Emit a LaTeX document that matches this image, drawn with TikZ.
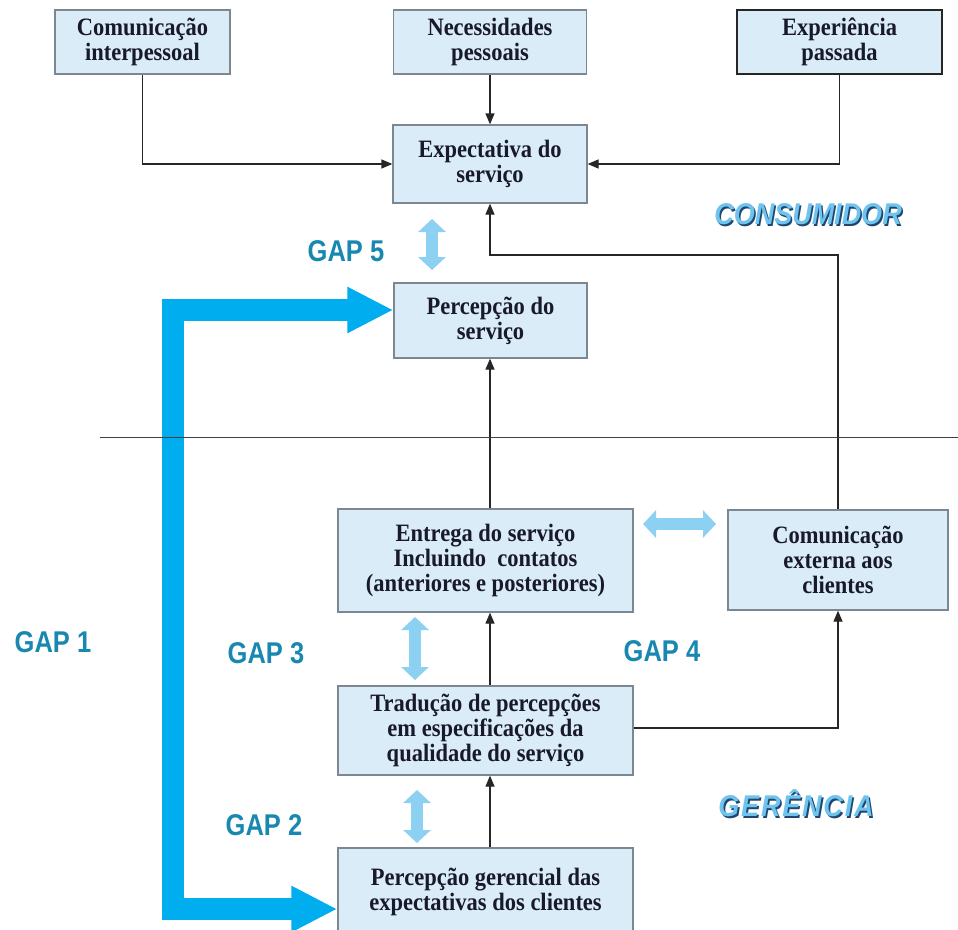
\documentclass[tikz,border=0pt]{standalone}
\usepackage{fontspec}
\setmainfont{Liberation Serif}
\newfontfamily\boxfont[FakeStretch=0.9]{Liberation Serif}
\newfontfamily\gapfont[FakeStretch=0.85]{Liberation Sans}
\newfontfamily\regfont[FakeStretch=0.9]{Liberation Sans}
\usetikzlibrary{arrows.meta}
\definecolor{boxfill}{RGB}{218,236,248}
\definecolor{boxline}{RGB}{125,135,145}
\definecolor{txt}{RGB}{25,25,45}
\definecolor{gapc}{RGB}{24,136,176}
\definecolor{bigc}{RGB}{0,174,239}
\definecolor{lightc}{RGB}{140,208,242}
\definecolor{regfill}{RGB}{110,196,238}
\definecolor{regshadow}{RGB}{30,70,110}
\newcommand\shadowtext[1]{\makebox[0pt][l]{\kern1.6pt\raisebox{-1.6pt}{\color{regshadow}#1}}#1}
\tikzset{
 box/.style={draw=boxline, fill=boxfill, line width=1.3pt, text=txt, align=center,
   font=\boxfont\fontsize{25}{25}\selectfont\bfseries, inner sep=0pt},
 conn/.style={draw=black!85, line width=1.3pt},
 arr/.style={conn, -{Triangle[length=11pt,width=9pt]}},
 gaparrow/.style={draw=lightc, line width=12pt,
   {Triangle[length=13pt,width=27pt]}-{Triangle[length=13pt,width=27pt]}},
 bigarrow/.style={draw=bigc, line width=22pt,
   {Triangle[length=46pt,width=43pt]}-{Triangle[length=46pt,width=43pt]}},
 gaplabel/.style={text=gapc, font=\gapfont\fontsize{30}{30}\selectfont\bfseries, inner sep=0pt},
 regfront/.style={text=regfill, font=\regfont\fontsize{30}{30}\selectfont\bfseries\itshape, inner sep=0pt},
 sepline/.style={draw=black!75, line width=1.2pt},
}
\begin{document}
\begin{tikzpicture}[x=1pt,y=-1pt]
\fill[white] (0,0) rectangle (958,929);
\useasboundingbox (0,0) rectangle (958,929);
\clip (0,0) rectangle (958,929);

% boxes
\node[box, minimum width=175pt, minimum height=64pt] (ci) at (142.5,42) {Comunicação\\interpessoal};
\node[box, minimum width=193pt, minimum height=64pt] (np) at (490,42) {Necessidades\\pessoais};
\node[box, draw=black!85, minimum width=205pt, minimum height=64pt] (xp) at (839.5,42) {Experiência\\passada};
\node[box, minimum width=194pt, minimum height=78pt] (ex) at (490,164) {Expectativa do\\serviço};
\node[box, minimum width=193pt, minimum height=75pt] (ps) at (490.5,320.5) {Percepção do\\serviço};
\node[box, minimum width=295pt, minimum height=103pt] (en) at (485.5,560.5) {Entrega do serviço\\Incluindo\ \ contatos\\(anteriores e posteriores)};
\node[box, minimum width=220pt, minimum height=100pt] (ce) at (838,560) {Comunicação\\externa aos\\clientes};
\node[box, minimum width=295pt, minimum height=89pt] (tr) at (485.5,730.5) {Tradução de percepções\\em especificações da\\qualidade do serviço};
\node[box, minimum width=295pt, minimum height=87pt] (pg) at (485.5,891.5) {Percepção gerencial das\\expectativas dos clientes};

% helper coordinates
\coordinate (ax) at (490,0);
\coordinate (yl) at (600,255);
\coordinate (ty) at (0,728);
\coordinate (g1a) at (173,909);
\coordinate (g1b) at (173,310);
\coordinate (sepL) at (100,437.7);
\coordinate (sepR) at (958,437.7);
\coordinate (g5t) at (432,219);
\coordinate (g5b) at (432,270);
\coordinate (g3t) at (415,617);
\coordinate (g3b) at (415,680);
\coordinate (g2t) at (417,790);
\coordinate (g2b) at (417,843);
\coordinate (g4l) at (643,524);
\coordinate (g4r) at (716,524);

% connectors
\draw[arr] (ci.south) |- (ex.west);
\draw[arr] (np.south) -- (ex.north);
\draw[arr] (xp.south) |- (ex.east);
\draw[arr] (ce.north) |- (yl) -| (ex.south);
\draw[arr] (en.north -| ax) -- (ps.south -| ax);
\draw[arr] (tr.north -| ax) -- (en.south -| ax);
\draw[arr] (pg.north -| ax) -- (tr.south -| ax);
\draw[arr] (tr.east |- ty) -| (ce.south);

% big GAP 1 arrow
\draw[bigarrow] (pg.west |- g1a) -- (g1a) -- (g1b) -- (ps.west |- g1b);

% separator
\draw[sepline] (sepL) -- (sepR);

% gap arrows
\draw[gaparrow] (g5t) -- (g5b);
\draw[gaparrow] (g3t) -- (g3b);
\draw[gaparrow] (g2t) -- (g2b);
\draw[gaparrow] (g4l) -- (g4r);

% gap labels
\node[gaplabel] (gap5) at (346,251) {GAP 5};
\node[gaplabel] (gap1) at (53,642) {GAP 1};
\node[gaplabel] (gap3) at (266,653) {GAP 3};
\node[gaplabel] (gap4) at (662,651) {GAP 4};
\node[gaplabel] (gap2) at (264,825) {GAP 2};

% region labels
\node[regfront] (cons) at (808,215) {\shadowtext{CONSUMIDOR}};
\node[regfront] (ger) at (796,804) {\addfontfeature{LetterSpace=6}\shadowtext{GERÊNCIA}};
\end{tikzpicture}
\end{document}
